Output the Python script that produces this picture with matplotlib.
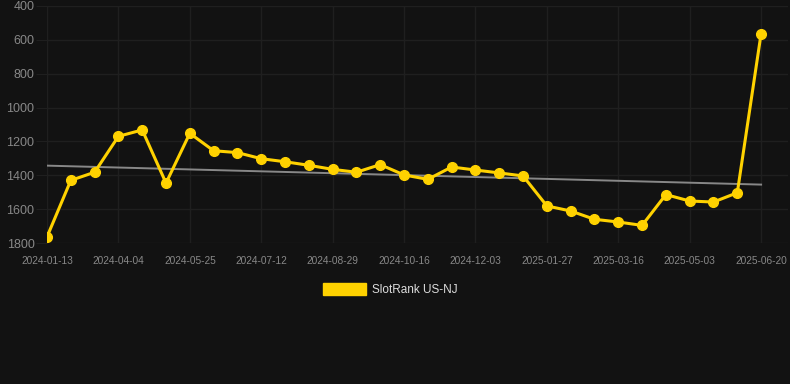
import matplotlib.pyplot as plt
from matplotlib.patches import Patch
import numpy as np

# category labels (one per data point, only every third one is shown)
dates = ['2024-01-13', '2024-02-09', '2024-03-08', '2024-04-04', '2024-04-21',
         '2024-05-08', '2024-05-25', '2024-06-10', '2024-06-26', '2024-07-12',
         '2024-07-28', '2024-08-13', '2024-08-29', '2024-09-14', '2024-09-30',
         '2024-10-16', '2024-11-01', '2024-11-17', '2024-12-03', '2024-12-21',
         '2025-01-08', '2025-01-27', '2025-02-12', '2025-02-28', '2025-03-16',
         '2025-04-01', '2025-04-17', '2025-05-03', '2025-05-19', '2025-06-04',
         '2025-06-20']

rank = [1764, 1430, 1382, 1170, 1132, 1446, 1152, 1255, 1266, 1302,
        1320, 1341, 1365, 1382, 1337, 1398, 1424, 1351, 1369, 1386,
        1404, 1581, 1611, 1660, 1676, 1696, 1514, 1552, 1558, 1503,
        563]

# trend line end values
trend = [1343, 1455]

y_ticks = [400, 600, 800, 1000, 1200, 1400, 1600, 1800]

bg = '#121212'
gold = '#FFD200'
grid_col = '#1f1f1f'

fig = plt.figure(figsize=(7.9, 3.84), dpi=100, facecolor=bg)
ax = fig.add_axes([47/790, 1 - 243/384, (788 - 47)/790, (243 - 6)/384])
ax.set_facecolor(bg)

x = np.arange(len(rank))
ax.plot([x[0], x[-1]], trend, color='#888888', linewidth=1.4, zorder=2)
ax.plot(x, rank, color=gold, linewidth=2.2, marker='o', markersize=7,
        markerfacecolor=gold, markeredgecolor=gold, zorder=3)

ax.set_ylim(1800, 400)
ax.set_yticks(y_ticks)
ax.set_xlim(0, 31.13)
ax.set_xticks(x[::3])
ax.set_xticklabels(dates[::3])

ax.grid(True, color=grid_col, linewidth=1.0)
ax.set_axisbelow(True)
for s in ax.spines.values():
    s.set_visible(False)
ax.tick_params(axis='both', colors='#888888')
ax.tick_params(axis='y', labelsize=9, length=8, color=grid_col, pad=1)
ax.tick_params(axis='x', labelsize=7.3, length=0, pad=9)
for lab in ax.get_xticklabels() + ax.get_yticklabels():
    lab.set_family('Liberation Sans')

handle = Patch(facecolor=gold, edgecolor=gold)
leg = fig.legend([handle], ['SlotRank US-NJ'], loc='upper center',
                 bbox_to_anchor=(0.494, 1 - 272/384), frameon=False,
                 handlelength=3.6, handleheight=1.2, handletextpad=0.5,
                 prop={'family': 'Liberation Sans', 'size': 8.5})
for t in leg.get_texts():
    t.set_color('#dddddd')

fig.savefig('out.png', dpi=100, facecolor=bg)
